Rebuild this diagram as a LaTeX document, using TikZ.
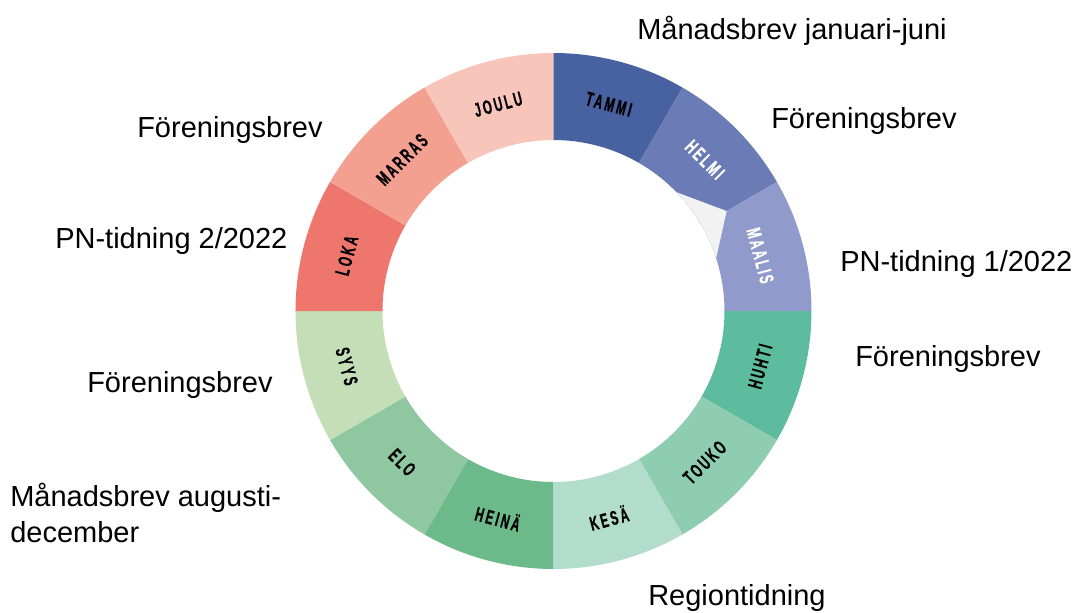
\documentclass[tikz,border=0pt]{standalone}
\usepackage{fontspec}
\setmainfont{Liberation Sans}
\newfontfamily\monthfont{Liberation Sans}[FakeStretch=0.58,LetterSpace=12,FakeBold=0.6]
\definecolor{tammi}{HTML}{4861A0}
\definecolor{helmi}{HTML}{6B7BB5}
\definecolor{maalis}{HTML}{909BCB}
\definecolor{huhti}{HTML}{5DBC9D}
\definecolor{touko}{HTML}{8ECDB2}
\definecolor{kesa}{HTML}{B2DCCC}
\definecolor{heina}{HTML}{6CB98A}
\definecolor{elo}{HTML}{8FC8A0}
\definecolor{syys}{HTML}{C4DFB8}
\definecolor{loka}{HTML}{EF766C}
\definecolor{marras}{HTML}{F3A091}
\definecolor{joulu}{HTML}{F8C5BB}
\definecolor{patchgrey}{HTML}{F2F2F2}
\tikzset{
  monthlabel/.style={inner sep=0pt,font=\monthfont\bfseries\fontsize{15}{16}\selectfont},
  infolabel/.style={inner sep=0pt,anchor=base west,align=left,font=\fontsize{21.75}{27}\selectfont}
}
\begin{document}
\begin{tikzpicture}[x=0.75pt,y=0.75pt]
\useasboundingbox (-553.5,-301) rectangle (521.5,311);
% ring
\foreach \a/\c in {90/tammi,60/helmi,30/maalis,0/huhti,-30/touko,-60/kesa,-90/heina,-120/elo,-150/syys,-180/loka,-210/marras,-240/joulu}
  \fill[\c] (\a:258) arc[start angle=\a,end angle=\a-30,radius=258] -- (\a-30:171) arc[start angle=\a-30,end angle=\a,radius=171] -- cycle;
\fill[patchgrey] (44:171) -- (30:200) -- (18:171) arc[start angle=18,end angle=44,radius=171] -- cycle;
% months
\foreach \m/\a/\r/\t [count=\i] in {TAMMI/75/-15/black,HELMI/45/-45/white,MAALIS/15/-75/white,HUHTI/-15/75/black,TOUKO/-45/45/black,KESÄ/-75/15/black,HEINÄ/-105/-15/black,ELO/-135/-45/black,SYYS/-165/-75/black,LOKA/165/75/black,MARRAS/135/45/black,JOULU/105/15/black}
  \node[monthlabel,rotate=\r,text=\t] (month\i) at (\a:214) {\m};
% letters
\node[infolabel] (brevjan) at (83.5,272) {Månadsbrev januari-juni};
\node[infolabel] (forening1) at (217.5,183) {Föreningsbrev};
\node[infolabel] (pn1) at (286.5,40) {PN-tidning 1/2022};
\node[infolabel] (forening2) at (301.5,-55) {Föreningsbrev};
\node[infolabel] (region) at (94.5,-294) {Regiontidning};
\node[infolabel] (brevaug) at (-543.5,-231) {Månadsbrev augusti-\\december};
\node[infolabel] (forening3) at (-466.5,-81) {Föreningsbrev};
\node[infolabel] (pn2) at (-498.5,63) {PN-tidning 2/2022};
\node[infolabel] (forening4) at (-416.5,174) {Föreningsbrev};
\end{tikzpicture}
\end{document}
